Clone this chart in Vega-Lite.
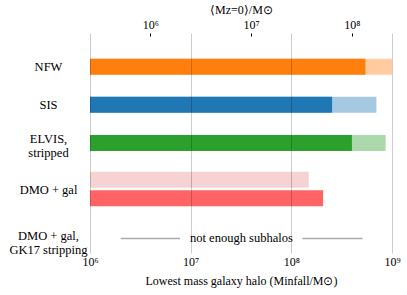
{
  "$schema": "https://vega.github.io/schema/vega-lite/v6.json",
  "width": 302,
  "height": 220,
  "autosize": "none",
  "padding": {"left": 90, "top": 33, "right": 15, "bottom": 42},
  "config": {
    "font": "Liberation Serif",
    "view": {"stroke": null},
    "axis": {
      "labelFont": "Liberation Serif",
      "titleFont": "Liberation Serif",
      "labelColor": "#000",
      "titleColor": "#000",
      "labelFontSize": 12,
      "titleFontSize": 12,
      "titleFontWeight": "normal"
    }
  },
  "layer": [
    {
      "layer": [
        {
          "data": {
            "values": [
              {"model": "NFW", "series": "NFW light", "pos": 3, "start": 1000000, "end": 1000000000},
              {"model": "NFW", "series": "NFW", "pos": 3, "start": 1000000, "end": 545000000},
              {"model": "SIS", "series": "SIS light", "pos": 7, "start": 1000000, "end": 700000000},
              {"model": "SIS", "series": "SIS", "pos": 7, "start": 1000000, "end": 254000000},
              {"model": "ELVIS, stripped", "series": "ELVIS light", "pos": 11, "start": 1000000, "end": 865000000},
              {"model": "ELVIS, stripped", "series": "ELVIS", "pos": 11, "start": 1000000, "end": 400000000},
              {"model": "DMO + gal", "series": "DMO light", "pos": 14.85, "start": 1000000, "end": 149000000},
              {"model": "DMO + gal", "series": "DMO", "pos": 16.8, "start": 1000000, "end": 207000000}
            ]
          },
          "mark": {"type": "bar", "orient": "horizontal", "size": 16},
          "encoding": {
            "y": {
              "field": "pos",
              "type": "quantitative",
              "scale": {"domain": [0, 22], "reverse": true, "nice": false, "zero": false},
              "axis": {
                "title": null,
                "values": [3, 7, 10.55, 15.9, 20.65],
                "labelExpr": "datum.value == 3 ? 'NFW' : datum.value == 7 ? 'SIS' : datum.value == 10.55 ? ['ELVIS,', 'stripped'] : datum.value == 20.65 ? ['DMO + gal,', 'GK17 stripping'] : 'DMO + gal'",
                "labelAlign": "center",
                "labelBaseline": "middle",
                "labelPadding": 42,
                "labelLineHeight": 14,
                "labelFontSize": 12.5,
                "ticks": false,
                "domain": false,
                "grid": false
              }
            },
            "x": {
              "field": "start",
              "type": "quantitative",
              "scale": {"type": "log", "domain": [1000000, 1000000000], "nice": false},
              "axis": {
                "orient": "bottom",
                "title": "Lowest mass galaxy halo (Minfall/M⊙)",
                "values": [1000000, 10000000, 100000000, 1000000000],
                "labelExpr": "'10' + (datum.value == 1000000 ? '⁶' : datum.value == 10000000 ? '⁷' : datum.value == 100000000 ? '⁸' : '⁹')",
                "labelFlush": false,
                "labelPadding": 3,
                "titlePadding": 8,
                "ticks": false,
                "domain": false,
                "grid": true,
                "gridColor": "#000",
                "gridOpacity": 0.2,
                "gridWidth": 1,
                "zindex": 1
              }
            },
            "x2": {"field": "end"},
            "color": {
              "field": "series",
              "type": "nominal",
              "scale": {
                "domain": ["NFW light", "NFW", "SIS light", "SIS", "ELVIS light", "ELVIS", "DMO light", "DMO"],
                "range": ["#ffcc9f", "#ff7f0e", "#a5c9e1", "#1f77b4", "#abd9ab", "#2ca02c", "#f5d3d3", "#ff6464"]
              },
              "legend": null
            }
          }
        },
        {
          "data": {
            "values": [
              {"pos": 21, "from": 2020000, "to": 7830000},
              {"pos": 21, "from": 129000000, "to": 509000000}
            ]
          },
          "mark": {"type": "rule", "color": "#aaaaaa", "strokeWidth": 1.5},
          "encoding": {
            "y": {"field": "pos", "type": "quantitative"},
            "x": {"field": "from", "type": "quantitative"},
            "x2": {"field": "to"}
          }
        },
        {
          "data": {"values": [{"pos": 21, "at": 31900000, "note": "not enough subhalos"}]},
          "mark": {"type": "text", "fontSize": 12.5, "color": "#000", "baseline": "middle", "align": "center"},
          "encoding": {
            "y": {"field": "pos", "type": "quantitative"},
            "x": {"field": "at", "type": "quantitative"},
            "text": {"field": "note"}
          }
        }
      ]
    },
    {
      "data": {"values": [{"mz0": 1000000}, {"mz0": 10000000}, {"mz0": 100000000}]},
      "mark": {"type": "point", "opacity": 0},
      "encoding": {
        "x": {
          "field": "mz0",
          "type": "quantitative",
          "scale": {"type": "log", "domain": [251200, 251200000], "nice": false},
          "axis": {
            "orient": "top",
            "title": "⟨Mz=0⟩/M⊙",
            "values": [1000000, 10000000, 100000000],
            "labelExpr": "'10' + (datum.value == 1000000 ? '⁶' : datum.value == 10000000 ? '⁷' : '⁸')",
            "labelFlush": false,
            "domain": false,
            "grid": false,
            "ticks": true,
            "tickSize": -3,
            "tickColor": "#000",
            "labelPadding": 5,
            "titlePadding": 2
          }
        }
      }
    }
  ],
  "resolve": {"scale": {"x": "independent"}}
}
